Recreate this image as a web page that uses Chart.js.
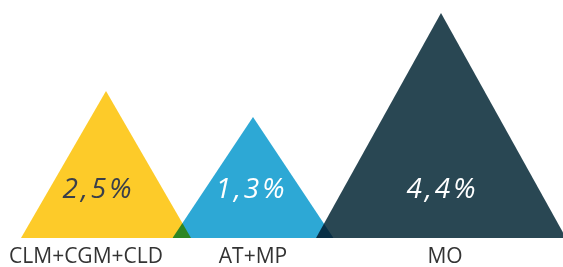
<!DOCTYPE html>
<html>
<head>
<meta charset="utf-8">
<script src="https://cdn.jsdelivr.net/npm/chart.js@4"></script>
<style>
  html, body { margin: 0; padding: 0; background: #fff; }
  #wrap { width: 563px; height: 267px; }
</style>
</head>
<body>
<div id="wrap"><canvas id="chart"></canvas></div>
<script>
// data
var categories = ['CLM+CGM+CLD', 'AT+MP', 'MO'];
var valueLabels = ['2,5%', '1,3%', '4,4%'];
var heights = [147, 121, 225];      // peak height of each triangle
var centers = [106, 253, 441];      // peak position on the x scale
var halfWidths = [85, 80.5, 125];   // half of the base
var labelX = [86, 253, 445];        // where the category names sit
var valueX = [97, 250, 441];        // where the percentages sit
var valueY = 48;

var colors = ['#fdcb29', '#2da8d5', '#294753'];
var valueColors = ['#3a3f4a', '#ffffff', '#ffffff'];

var datasets = [];
for (var i = 0; i < categories.length; i++) {
  datasets.push({
    label: categories[i],
    data: [
      {x: centers[i] - halfWidths[i], y: 0},
      {x: centers[i], y: heights[i]},
      {x: centers[i] + halfWidths[i], y: 0}
    ],
    backgroundColor: colors[i],
    borderWidth: 0,
    pointRadius: 0,
    fill: 'origin',
    tension: 0
  });
}

// overlaps look like multiply blending (yellow x blue = green)
var blendPlugin = {
  id: 'blend',
  beforeDatasetsDraw: function(chart) {
    chart.ctx.save();
    chart.ctx.globalCompositeOperation = 'multiply';
  },
  afterDatasetsDraw: function(chart) {
    chart.ctx.restore();
    var ctx = chart.ctx;
    var xs = chart.scales.x, ys = chart.scales.y;
    ctx.save();
    ctx.font = 'italic 28px "Open Sans"';
    ctx.letterSpacing = '3px';
    ctx.textAlign = 'center';
    ctx.textBaseline = 'middle';
    for (var i = 0; i < valueLabels.length; i++) {
      ctx.fillStyle = valueColors[i];
      ctx.fillText(valueLabels[i], xs.getPixelForValue(valueX[i]) + 1.5, ys.getPixelForValue(valueY));
    }
    ctx.restore();
  }
};

var ctx = document.getElementById('chart').getContext('2d');
var chart = new Chart(ctx, {
  type: 'line',
  data: {datasets: datasets},
  options: {
    responsive: true,
    maintainAspectRatio: false,
    animation: false,
    layout: {padding: {left: 0, right: 0, top: 0, bottom: 0}},
    plugins: {legend: {display: false}, tooltip: {enabled: false}},
    scales: {
      x: {
        type: 'linear',
        min: 0,
        max: 563,
        grid: {display: false, drawTicks: false},
        border: {display: false},
        afterBuildTicks: function(axis) {
          axis.ticks = labelX.map(function(v) { return {value: v}; });
        },
        afterFit: function(axis) {
          axis.height = 29;
        },
        ticks: {
          autoSkip: false,
          maxRotation: 0,
          padding: 6,
          color: '#333333',
          font: {family: '"Open Sans"', size: 21},
          callback: function(v, i) { return categories[i]; }
        }
      },
      y: {
        display: false,
        min: 0,
        max: 238
      }
    }
  },
  plugins: [blendPlugin]
});
</script>
</body>
</html>
